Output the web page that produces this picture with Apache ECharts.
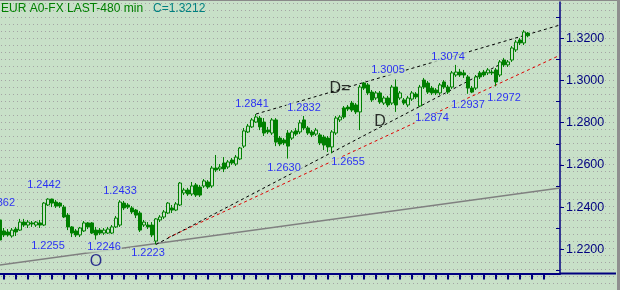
<!DOCTYPE html>
<html><head><meta charset="utf-8">
<script src="https://cdn.jsdelivr.net/npm/echarts@6/dist/echarts.min.js"></script>
<style>html,body{margin:0;padding:0;background:#c8e0c8;}#c{width:620px;height:290px;}</style>
</head><body><div id="c"></div>
<script>
// ---------- data ----------
const titleText = 'EUR A0-FX LAST-480 min';
const candleCount = 141; // category slots (last ones empty, right margin)
const open = [
1.2339,1.2287,1.2282,1.2263,1.2296,1.2291,1.2329,1.2315,1.2325,1.2315,
1.2325,1.2315,1.2410,1.2438,1.2424,1.2419,1.2400,1.2362,1.2306,1.2287,
1.2268,1.2287,1.2325,1.2325,1.2291,1.2291,1.2277,1.2277,1.2277,1.2306,
1.2315,1.2419,1.2410,1.2396,1.2386,1.2372,1.2315,1.2315,1.2315,1.2239,
1.2339,1.2353,1.2372,1.2396,1.2386,1.2410,1.2467,1.2481,1.2462,1.2505,
1.2495,1.2500,1.2519,1.2500,1.2585,1.2581,1.2609,1.2590,1.2623,1.2604,
1.2628,1.2689,1.2756,1.2780,1.2803,1.2822,1.2803,1.2765,1.2751,1.2813,
1.2727,1.2718,1.2751,1.2727,1.2761,1.2756,1.2813,1.2775,1.2756,1.2746,
1.2742,1.2732,1.2727,1.2685,1.2751,1.2813,1.2870,1.2874,1.2893,1.2884,
1.2851,1.2988,1.2979,1.2945,1.2917,1.2941,1.2893,1.2917,1.2893,1.2969,
1.2917,1.2908,1.2884,1.2912,1.2936,1.2879,1.3002,1.2988,1.2964,1.2955,
1.2941,1.2993,1.2969,1.2969,1.3026,1.3040,1.3036,1.3017,1.2964,1.2964,
1.3036,1.3040,1.3036,1.3040,1.3050,1.3026,1.3097,1.3074,1.3097,1.3145,
1.3192,1.3178,1.3225];
const close = [
1.2244,1.2268,1.2268,1.2291,1.2282,1.2329,1.2315,1.2329,1.2320,1.2329,
1.2315,1.2419,1.2438,1.2419,1.2405,1.2405,1.2353,1.2306,1.2277,1.2268,
1.2301,1.2325,1.2306,1.2277,1.2268,1.2277,1.2291,1.2296,1.2306,1.2348,
1.2424,1.2396,1.2400,1.2377,1.2362,1.2291,1.2329,1.2306,1.2268,1.2344,
1.2353,1.2377,1.2419,1.2386,1.2415,1.2514,1.2481,1.2462,1.2500,1.2457,
1.2457,1.2524,1.2495,1.2585,1.2576,1.2590,1.2581,1.2614,1.2609,1.2637,
1.2680,1.2761,1.2784,1.2813,1.2827,1.2780,1.2751,1.2756,1.2813,1.2708,
1.2699,1.2704,1.2689,1.2756,1.2746,1.2799,1.2775,1.2751,1.2742,1.2765,
1.2704,1.2694,1.2685,1.2756,1.2822,1.2827,1.2827,1.2865,1.2860,1.2851,
1.2969,1.2964,1.2941,1.2908,1.2941,1.2898,1.2917,1.2884,1.2969,1.2884,
1.2941,1.2893,1.2917,1.2941,1.2922,1.2969,1.2969,1.2945,1.2941,1.2941,
1.2979,1.2969,1.2945,1.3036,1.3040,1.3026,1.3026,1.2964,1.2945,1.3017,
1.3017,1.3026,1.3050,1.3036,1.2993,1.3088,1.3074,1.3088,1.3154,1.3182,
1.3178,1.3230,1.3212];
const high = [
1.2362,1.2301,1.2296,1.2301,1.2306,1.2344,1.2344,1.2339,1.2334,1.2334,
1.2339,1.2424,1.2442,1.2440,1.2434,1.2424,1.2410,1.2372,1.2310,1.2296,
1.2306,1.2334,1.2329,1.2329,1.2306,1.2301,1.2301,1.2306,1.2315,1.2358,
1.2433,1.2429,1.2419,1.2405,1.2391,1.2381,1.2339,1.2329,1.2329,1.2348,
1.2362,1.2386,1.2424,1.2410,1.2424,1.2519,1.2491,1.2491,1.2519,1.2514,
1.2505,1.2533,1.2528,1.2595,1.2647,1.2604,1.2637,1.2623,1.2633,1.2647,
1.2685,1.2775,1.2794,1.2822,1.2841,1.2832,1.2822,1.2780,1.2822,1.2822,
1.2737,1.2727,1.2765,1.2765,1.2775,1.2813,1.2832,1.2784,1.2765,1.2775,
1.2751,1.2742,1.2737,1.2765,1.2832,1.2836,1.2879,1.2884,1.2903,1.2893,
1.2979,1.2993,1.2988,1.2955,1.2950,1.2950,1.2927,1.2927,1.2979,1.3005,
1.2950,1.2917,1.2927,1.2950,1.2945,1.2979,1.3012,1.2998,1.2974,1.2964,
1.2988,1.3002,1.2979,1.3045,1.3074,1.3055,1.3050,1.3026,1.2974,1.3026,
1.3045,1.3050,1.3059,1.3050,1.3059,1.3097,1.3107,1.3097,1.3163,1.3192,
1.3201,1.3239,1.3230];
const low = [
1.2230,1.2258,1.2260,1.2255,1.2263,1.2287,1.2306,1.2301,1.2306,1.2306,
1.2301,1.2310,1.2405,1.2400,1.2396,1.2396,1.2348,1.2291,1.2258,1.2258,
1.2258,1.2282,1.2296,1.2272,1.2246,1.2268,1.2268,1.2272,1.2272,1.2301,
1.2306,1.2386,1.2391,1.2367,1.2348,1.2282,1.2306,1.2296,1.2258,1.2223,
1.2329,1.2344,1.2367,1.2372,1.2381,1.2405,1.2457,1.2453,1.2453,1.2448,
1.2448,1.2491,1.2486,1.2491,1.2566,1.2571,1.2566,1.2581,1.2600,1.2595,
1.2623,1.2680,1.2751,1.2775,1.2799,1.2765,1.2737,1.2746,1.2742,1.2689,
1.2689,1.2694,1.2630,1.2718,1.2737,1.2746,1.2765,1.2742,1.2732,1.2737,
1.2694,1.2670,1.2661,1.2655,1.2742,1.2803,1.2818,1.2855,1.2851,1.2841,
1.2765,1.2955,1.2931,1.2898,1.2908,1.2889,1.2884,1.2874,1.2884,1.2851,
1.2908,1.2884,1.2874,1.2903,1.2912,1.2874,1.2960,1.2936,1.2931,1.2931,
1.2931,1.2960,1.2936,1.2960,1.3017,1.3017,1.3012,1.2937,1.2940,1.2955,
1.3007,1.3017,1.3026,1.3026,1.2972,1.3017,1.3064,1.3064,1.3088,1.3135,
1.3168,1.3168,1.3205];

// axis
const yMin = 1.20853, yMax = 1.3372;
const majorTicks = [1.22, 1.24, 1.26, 1.28, 1.30, 1.32];
const minorTicks = [1.21, 1.23, 1.25, 1.27, 1.29, 1.31, 1.33];

// price annotations: text, category index, price (label centre)
const priceLabelText = ['1.2362','1.2442','1.2255','1.2433','1.2246','1.2223','1.2841','1.2832','1.2630','1.2655','1.3005','1.3074','1.2874','1.2937','1.2972'];
const priceLabelK    = [4, 11, 12, 30, 26, 37, 63, 76, 71, 87, 97, 112, 108, 117, 126];
const priceLabelP    = [1.2419, 1.2505, 1.2216, 1.2476, 1.2211, 1.2182, 1.2889, 1.2870, 1.2585, 1.2614, 1.3050, 1.3111, 1.2822, 1.2884, 1.2917];
// pattern markers
const markerText  = ['D=', 'D', 'O'];
const markerK     = [85, 95, 24];
const markerP     = [1.2960, 1.2803, 1.2140];
const markerColor = ['#000000', '#000000', '#000080'];

// trend lines [index, price] pairs
const upperChannel = [[64, 1.2841], [140, 1.3263]];
const lowerChannel = [[39, 1.2223], [127, 1.3096]];
const redSupport   = [[42, 1.2255], [140, 1.3120]];
const grayTrend    = [[0, 1.2125], [140, 1.2491]];

// ---------- chart ----------
const BG = '#c8e0c8';
const FONT = 'Liberation Sans, Arial, sans-serif';
const categories = [];
for (let i = 0; i < candleCount; i++) categories.push(String(i));

const tile = document.createElement('canvas');
tile.width = 4; tile.height = 7;
const tc = tile.getContext('2d');
tc.fillStyle = BG; tc.fillRect(0, 0, 4, 7);
tc.fillStyle = '#a4a4a4'; tc.fillRect(1, 3, 1, 1);

const chart = echarts.init(document.getElementById('c'), null, {renderer: 'canvas'});

const labelData = priceLabelText.map((t, i) => ({
  value: [priceLabelK[i], priceLabelP[i]],
  label: i === 0 ? {align: 'right'} : {}
}));
const markerData = markerText.map((t, i) => ({
  value: [markerK[i], markerP[i]],
  label: {color: markerColor[i]}
}));

function trend(data, color, width, dashed) {
  return {
    type: 'line', data: data, showSymbol: false, symbol: 'none', silent: true, z: 2,
    lineStyle: {color: color, width: width, type: dashed ? [3, 3] : 'solid'},
    animation: false
  };
}

chart.setOption({
  animation: false,
  backgroundColor: BG,
  textStyle: {fontFamily: FONT},
  graphic: [
    {type: 'rect', z: -100, silent: true, shape: {x: 0, y: 0, width: 620, height: 290},
     style: {fill: {image: tile, repeat: 'repeat'}}},
    {type: 'rect', z: 100, silent: true, shape: {x: 0, y: 0, width: 620, height: 1}, style: {fill: '#8a8a8a'}},
    {type: 'rect', z: 100, silent: true, shape: {x: 617, y: 0, width: 3, height: 290}, style: {fill: '#8f8f8f'}},
    {type: 'line', z: 100, silent: true, shape: {x1: 560, y1: 273.5, x2: 616, y2: 273.5}, style: {stroke: '#000080', lineWidth: 2}}
  ],
  title: [
    {text: titleText, left: 1, top: 3, padding: 0,
     textStyle: {color: '#008000', fontSize: 12, fontWeight: 'normal', fontFamily: FONT}},
    {text: 'C=' + close[close.length - 1].toFixed(4), left: 153, top: 3, padding: 0,
     textStyle: {color: '#008080', fontSize: 12, fontWeight: 'normal', fontFamily: FONT}}
  ],
  grid: {left: 0, right: 60, top: 2, bottom: 16.5, containLabel: false},
  xAxis: {
    type: 'category', data: categories, boundaryGap: false,
    axisLine: {onZero: false, lineStyle: {color: '#000080', width: 2}},
    axisTick: {show: true, length: 6, interval: (i) => i % 3 === 1 && i <= 136,
               lineStyle: {color: '#000080', width: 2}},
    axisLabel: {show: false}, splitLine: {show: false}
  },
  yAxis: [
    {type: 'value', position: 'right', min: yMin, max: yMax, scale: true,
     axisLine: {show: true, onZero: false, lineStyle: {color: '#000080', width: 1.5}},
     axisTick: {show: true, length: 4, customValues: majorTicks, lineStyle: {color: '#000080', width: 1}},
     axisLabel: {show: true, customValues: majorTicks, formatter: v => v.toFixed(4),
                 color: '#000080', fontSize: 12.5, margin: 6, fontFamily: FONT},
     splitLine: {show: false}},
    {type: 'value', position: 'right', min: yMin, max: yMax, scale: true,
     axisLine: {show: false},
     axisTick: {show: true, inside: true, length: 4, customValues: minorTicks, lineStyle: {color: '#000080', width: 1}},
     axisLabel: {show: false}, splitLine: {show: false}}
  ],
  series: [
    trend(grayTrend, '#808080', 1.5, false),
    trend(redSupport, '#e00000', 1, true),
    trend(lowerChannel, '#000000', 1, true),
    trend(upperChannel, '#000000', 1, true),
    {
      type: 'scatter', data: labelData, symbolSize: 1, silent: true, z: 3,
      itemStyle: {color: 'rgba(0,0,0,0)'},
      label: {show: true, position: 'inside', formatter: p => priceLabelText[p.dataIndex],
              color: '#0000ff', fontSize: 11, fontFamily: FONT, backgroundColor: BG, padding: [0, 1]}
    },
    {
      type: 'scatter', data: markerData, symbolSize: 1, silent: true, z: 3,
      itemStyle: {color: 'rgba(0,0,0,0)'},
      label: {show: true, position: 'inside', formatter: p => markerText[p.dataIndex],
              fontSize: 16, fontFamily: FONT}
    },
    {
      type: 'candlestick', z: 4, barWidth: 3, silent: true,
      data: open.map((o, i) => [o, close[i], low[i], high[i]]),
      itemStyle: {color: BG, color0: '#008000', borderColor: '#008000', borderColor0: '#008000',
                  borderColorDoji: '#008000', borderWidth: 1}
    }
  ]
});
</script>
</body></html>
